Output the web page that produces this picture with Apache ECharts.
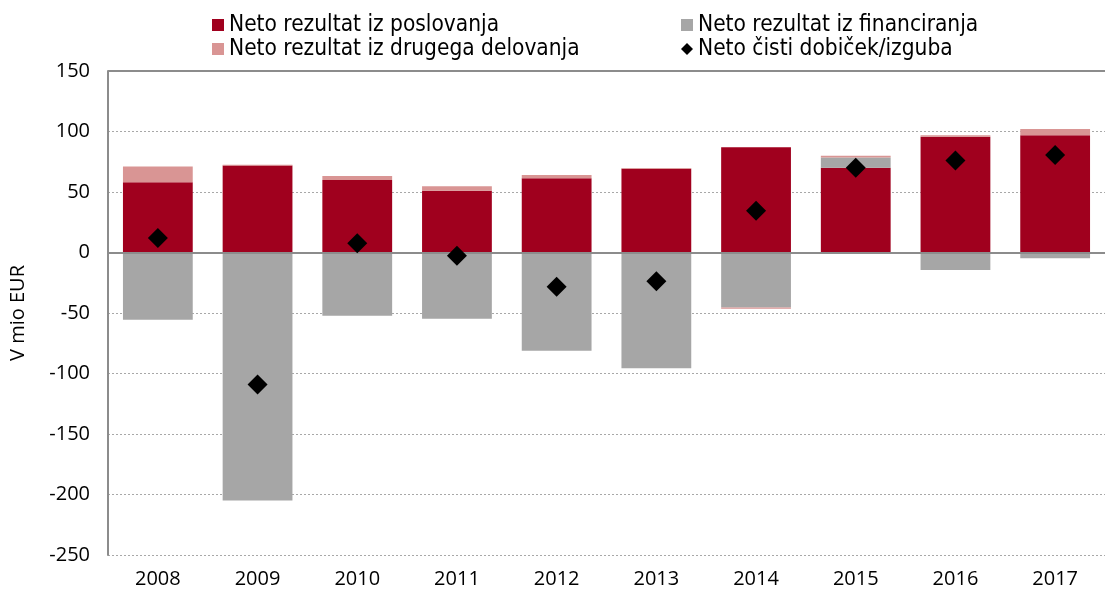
<!DOCTYPE html>
<html>
<head>
<meta charset="utf-8">
<script src="https://cdn.jsdelivr.net/npm/echarts@6/dist/echarts.min.js"></script>
<style>html,body{margin:0;padding:0;background:#fff}#c{width:1105px;height:592px}</style>
</head>
<body>
<div id="c"></div>
<script>
var categories = ['2008','2009','2010','2011','2012','2013','2014','2015','2016','2017'];
var poslovanje = [58, 72, 60, 51, 61.3, 69.3, 87, 70, 95.7, 97];
var financiranje = [-55.5, -205, -52.3, -54.7, -81.3, -95.6, -45.5, 8.5, -14.5, -4.7];
var drugo = [13, 0.5, 3.2, 3.8, 2.7, 0.5, -1, 1.4, 1.3, 5];
var neto = [12, -109, 7.7, -2.7, -28.4, -23.8, 34.5, 70, 76, 80.6];
var names = ['Neto rezultat iz poslovanja','Neto rezultat iz financiranja','Neto rezultat iz drugega delovanja','Neto čisti dobiček/izguba'];

var FONT = '"Open Sans", sans-serif';
var LFONT = '"DejaVu Sans Condensed", "DejaVu Sans", sans-serif';
var chart = echarts.init(document.getElementById('c'), null, {renderer:'canvas'});
var legendText = {fontFamily: LFONT, fontSize: 22.5, color: '#000', lineHeight: 24};
chart.setOption({
  animation: false,
  legend: [
    {orient:'vertical', left:212, top:13, padding:0, itemWidth:12, itemHeight:12, itemGap:0, icon:'rect',
     textStyle: legendText, data:[names[0], names[2]]},
    {orient:'vertical', left:681, top:13, padding:0, itemWidth:12, itemHeight:12, itemGap:0,
     textStyle: legendText, data:[{name:names[1], icon:'rect'}, {name:names[3], icon:'diamond'}]}
  ],
  grid: {left:106, top:71, width:1010, height:484, containLabel:false},
  xAxis: {
    type:'category', data:categories,
    axisLine:{show:true, lineStyle:{color:'#8c8c8c', width:2}},
    axisTick:{show:false},
    axisLabel:{fontFamily:FONT, fontSize:20, color:'#000', margin:14}
  },
  yAxis: {
    type:'value', min:-250, max:150, interval:50,
    name:'V mio EUR', nameLocation:'middle', nameGap:80, nameRotate:90,
    nameTextStyle:{fontFamily:FONT, fontSize:20, color:'#000'},
    axisLine:{show:true, lineStyle:{color:'#8c8c8c', width:2}},
    axisTick:{show:false},
    axisLabel:{fontFamily:FONT, fontSize:20, color:'#000', margin:18},
    splitLine:{show:true, lineStyle:{color:'#a8a8a8', type:[2,2], width:1}}
  },
  series: [
    {name:names[0], type:'bar', stack:'s', data:poslovanje, barWidth:'70%',
     itemStyle:{color:'#a0001e'},
     markLine:{silent:true, symbol:'none', label:{show:false},
       lineStyle:{color:'#8c8c8c', width:2, type:'solid'},
       data:[{yAxis:0},{yAxis:150}]}},
    {name:names[1], type:'bar', stack:'s', data:financiranje, barWidth:'70%',
     itemStyle:{color:'#a6a6a6'}},
    {name:names[2], type:'bar', stack:'s', data:drugo, barWidth:'70%',
     itemStyle:{color:'#d99594'}},
    {name:names[3], type:'scatter', data:neto, symbol:'diamond', symbolSize:[20,20],
     itemStyle:{color:'#000', opacity:1}, z:10}
  ]
});
</script>
</body>
</html>
